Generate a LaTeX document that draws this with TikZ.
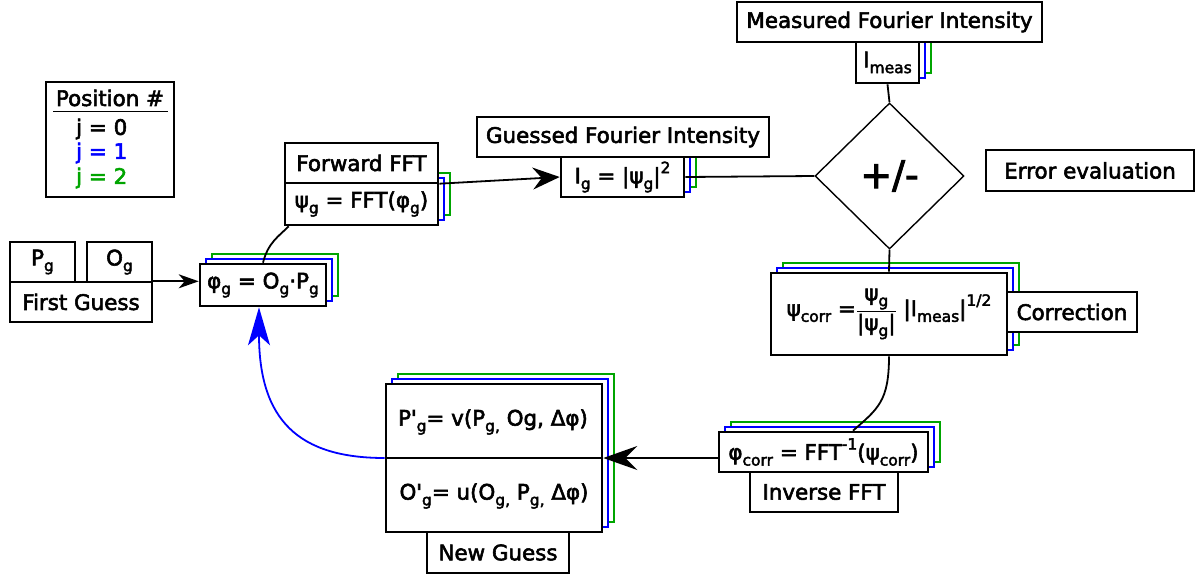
\documentclass[tikz,border=0pt]{standalone}
\usepackage{fontspec}
\setmainfont{DejaVu Sans}[FakeBold=2.6]
\setmonofont{DejaVu Sans Mono}[FakeBold=2.6]
\usetikzlibrary{arrows.meta,shapes.geometric,calc}
\definecolor{jblue}{RGB}{0,0,255}
\definecolor{jgreen}{RGB}{0,165,0}
\newcommand\dn[1]{\raisebox{-0.27em}{\fontsize{15.5}{15}\selectfont #1}}
\newcommand\up[1]{\raisebox{0.48em}{\fontsize{15.5}{15}\selectfont #1}}
\newcommand\ap{{\ttfamily\kern-0.17em'\kern-0.17em}}
\newcommand\shad[4]{%
  \node[shadowbox=jgreen,minimum width=#3,minimum height=#4] (#1-g) at ($#2+(12,-10)$) {};
  \node[shadowbox=jblue,minimum width=#3,minimum height=#4] (#1-b) at ($#2+(6,-5)$) {};}
\begin{document}
\begin{tikzpicture}[x=1pt,y=-1pt,font=\fontsize{21.4}{25}\selectfont,
  mainbox/.style={draw,line width=2.6pt,fill=white,inner sep=0pt,align=center},
  labelbox/.style={draw,line width=1.4pt,fill=white,inner sep=0pt},
  shadowbox/.style={draw=#1,line width=2pt,fill=white,inner sep=0pt},
  conn/.style={line width=1.8pt},
  txt/.style={inner sep=0pt}]
\useasboundingbox (0,0) rectangle (1198,576);

% legend
\node[labelbox,minimum width=128pt,minimum height=115pt] (leg) at (110,139.5) {};
\node[txt] (legt) at (110,98) {Position \#};
\draw[line width=1.3pt] ($(leg.north west)+(8,30)$) -- ($(leg.north east)+(-7,30)$);
\node[txt,anchor=west] (j0) at (76,129) {j = 0};
\node[txt,anchor=west,text=jblue] (j1) at (76,153) {j = 1};
\node[txt,anchor=west,text=jgreen] (j2) at (76,178) {j = 2};

% first guess
\node[labelbox,minimum width=142pt,minimum height=40pt] (fg) at (81,302) {First Guess};
\node[mainbox,minimum width=65pt,minimum height=40pt] (pg) at (42.5,262) {P\dn{g}};
\node[mainbox,minimum width=65pt,minimum height=40pt] (og) at (119.5,262) {O\dn{g}};

% phi_g
\shad{phig}{(263,285)}{126pt}{42pt}
\node[mainbox,minimum width=126pt,minimum height=42pt] (phig) at (263,285) {φ\dn{g} = O\dn{g}·P\dn{g}};

% forward FFT
\shad{psig}{(361.5,204)}{153pt}{42pt}
\node[labelbox,minimum width=153pt,minimum height=40pt] (fwd) at (361.5,163) {Forward FFT};
\node[mainbox,minimum width=153pt,minimum height=42pt] (psig) at (361.5,204) {ψ\dn{g} = FFT(φ\dn{g})};

% guessed intensity
\shad{ig}{(622.5,177)}{123pt}{40pt}
\node[labelbox,minimum width=292pt,minimum height=40pt] (gfi) at (623,137) {Guessed Fourier Intensity};
\node[mainbox,minimum width=123pt,minimum height=40pt] (ig) at (622.5,177) {I\dn{g} = |ψ\dn{g}|\up{2}};

% measured intensity
\shad{im}{(887.5,62.5)}{63pt}{41pt}
\node[labelbox,minimum width=305pt,minimum height=40pt] (mfi) at (889.5,22) {Measured Fourier Intensity};
\node[mainbox,minimum width=63pt,minimum height=41pt] (im) at (887.5,62.5) {I\dn{meas}};

% comparison
\node[draw,diamond,line width=1.4pt,fill=white,minimum width=149pt,minimum height=146pt,inner sep=0pt,font=\fontsize{38}{38}\selectfont] (dia) at (889.5,176) {+/-};
\node[labelbox,minimum width=208pt,minimum height=41pt] (err) at (1090,170.5) {Error evaluation};

% correction
\shad{psic}{(889,314)}{236pt}{82pt}
\node[labelbox,minimum width=130pt,minimum height=40pt] (corr) at (1072,312) {Correction};
\node[mainbox,minimum width=236pt,minimum height=82pt] (psic) at (889,314) {ψ\dn{corr} =$\displaystyle\frac{\hbox{ψ\dn{g}}}{\hbox{|ψ\dn{g}|}}$ |I\dn{meas}|\up{1/2}};

% inverse FFT
\shad{phic}{(823.5,452)}{209pt}{40pt}
\node[labelbox,minimum width=148pt,minimum height=40pt] (inv) at (824,492) {Inverse FFT};
\node[mainbox,minimum width=209pt,minimum height=40pt] (phic) at (823.5,452) {φ\dn{corr} = FFT\up{-1}(ψ\dn{corr})};

% new guess
\shad{ng}{(494,458)}{216pt}{148pt}
\node[labelbox,minimum width=142pt,minimum height=41pt] (ngl) at (498,552.5) {New Guess};
\node[mainbox,minimum width=216pt,minimum height=148pt] (ng) at (494,458) {};
\node[txt] (ng1) at (493,422) {P\ap\dn{g}= v(P\dn{g,} Og, Δφ)};
\node[txt] (ng2) at (494,496) {O\ap\dn{g}= u(O\dn{g,} P\dn{g,} Δφ)};
\draw[line width=2.6pt] (ng.west) -- (ng.east);

% connectors
\draw[conn,-{Stealth[length=20pt,width=14pt,inset=6pt]}] (fg.north east) -- (fg.north east -| phig.west);
\draw[conn] (phig.north) .. controls +(5,-20) and +(-10,10) .. ([xshift=5pt]psig.south west);
\draw[conn,-{Stealth[length=27pt,width=22pt,inset=9pt]}] ([yshift=-2pt]psig.north east) -- (ig.west);
\draw[conn] (ig.east) -- (dia.west);
\draw[conn] (im.south) -- (dia.north);
\draw[conn] (dia.south) -- (psic.north);
\draw[conn] (psic.south) .. controls +(0,45) and +(25,-22) .. ([xshift=29.5pt]phic.north);
\draw[conn,-{Stealth[length=34pt,width=24pt,inset=12pt]}] (phic.west |- ng.east) -- (ng.east);
\draw[conn,jblue,-{Stealth[length=38pt,width=22pt,inset=10pt]}] (ng.west) .. controls +(-86,0) and +(0,113) .. ([xshift=-4pt]phig.south);
\end{tikzpicture}
\end{document}
